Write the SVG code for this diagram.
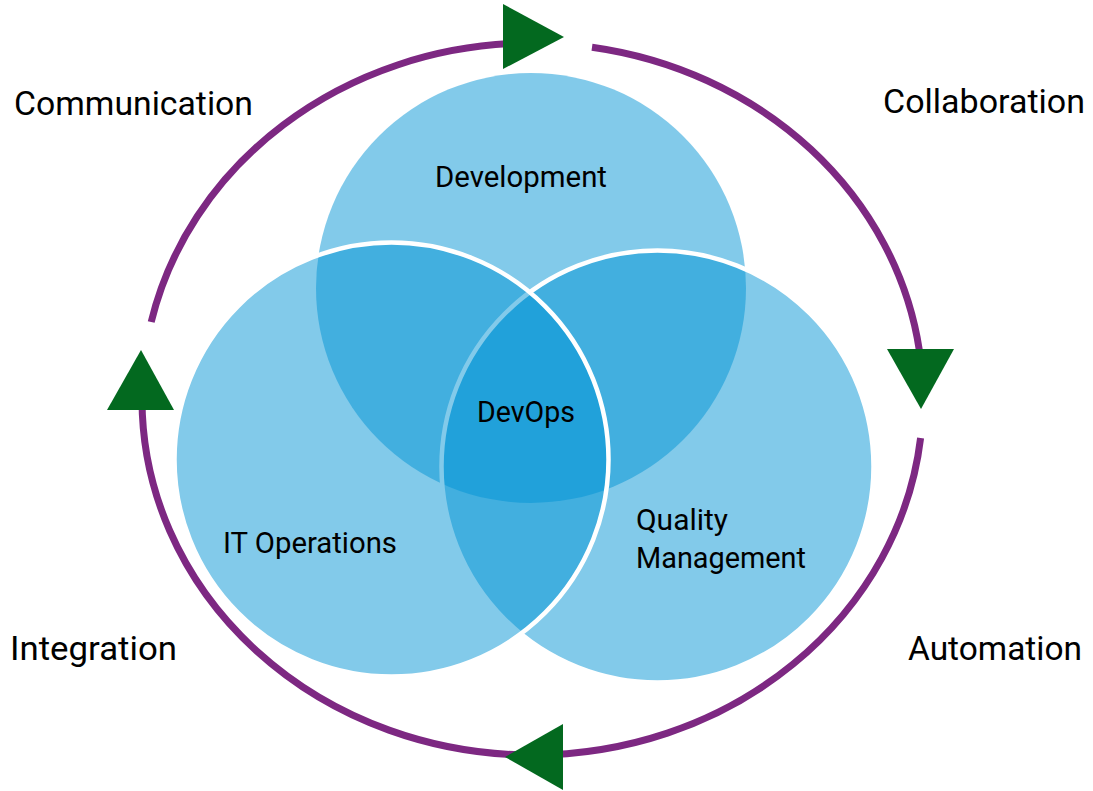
<svg xmlns="http://www.w3.org/2000/svg" width="1093" height="791" viewBox="0 0 1093 791">
  <style>
    .circ { fill: #0092D4; fill-opacity: 0.49; }
    .edge { stroke: #ffffff; stroke-width: 4.5; }
    .ring { fill: none; stroke: #7D2882; stroke-width: 7; }
    .tri { fill: #03691F; }
    .lbl { font-family: Roboto, "Liberation Sans", sans-serif; fill: #000; }
    .outer { font-size: 34px; }
    .inner { font-size: 30px; }
  </style>
  <rect width="1093" height="791" fill="#ffffff"/>
  <g id="connectors">
    <path class="ring" d="M 592 47.2 A 390.5 356 0 0 1 919.3 350"/>
    <path class="ring" d="M 920.6 438 A 390.5 356 0 0 1 532.5 755 A 390.5 356 0 0 1 142 400"/>
    <path class="ring" d="M 151.2 322 A 390.5 356 0 0 1 520 43.2"/>
    <polygon class="tri" points="503,4 503,69 564,37"/>
    <polygon class="tri" points="887,349 954,349 921,409"/>
    <polygon class="tri" points="563,724 563,790 505,757"/>
    <polygon class="tri" points="141,350 107,410 174,410"/>
  </g>
  <g id="node-development">
    <circle class="circ" cx="531" cy="288" r="215"/>
  </g>
  <g id="node-quality-management">
    <circle class="circ edge" cx="657.5" cy="466.5" r="216"/>
  </g>
  <g id="node-it-operations">
    <circle class="circ edge" cx="391.5" cy="459.5" r="217"/>
  </g>
  <g id="labels-inner">
    <text class="lbl inner" x="435" y="187" textLength="172" lengthAdjust="spacingAndGlyphs">Development</text>
    <text class="lbl inner" x="223" y="553" textLength="174" lengthAdjust="spacingAndGlyphs">IT Operations</text>
    <text class="lbl inner" x="477" y="422" textLength="98" lengthAdjust="spacingAndGlyphs">DevOps</text>
    <text class="lbl inner" x="636" y="530" textLength="92" lengthAdjust="spacingAndGlyphs">Quality</text>
    <text class="lbl inner" x="636" y="568" textLength="170" lengthAdjust="spacingAndGlyphs">Management</text>
  </g>
  <g id="labels-outer">
    <text class="lbl outer" x="14" y="115" textLength="239" lengthAdjust="spacingAndGlyphs">Communication</text>
    <text class="lbl outer" x="883" y="113" textLength="202" lengthAdjust="spacingAndGlyphs">Collaboration</text>
    <text class="lbl outer" x="10" y="660" textLength="167" lengthAdjust="spacingAndGlyphs">Integration</text>
    <text class="lbl outer" x="908" y="660" textLength="174" lengthAdjust="spacingAndGlyphs">Automation</text>
  </g>
</svg>
